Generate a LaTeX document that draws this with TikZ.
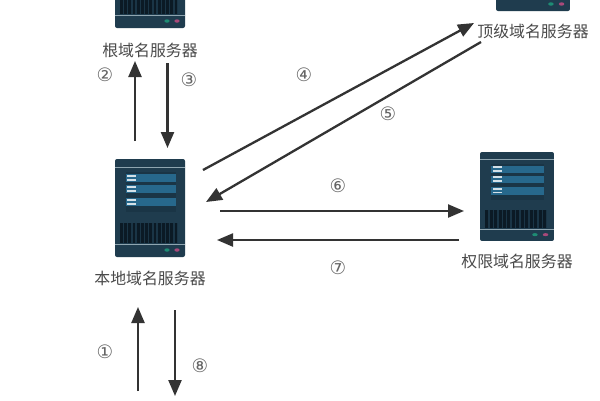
\documentclass[tikz,border=0pt]{standalone}
\usepackage{fontspec}
\newfontfamily\cjk{Noto Sans CJK SC}
\newfontfamily\symb{DejaVu Sans}
\usetikzlibrary{arrows.meta}
\definecolor{casing}{HTML}{1F3C4E}
\definecolor{casingdark}{HTML}{1A3546}
\definecolor{panelrow}{HTML}{27688C}
\definecolor{stripe}{HTML}{8FA5B0}
\definecolor{slot}{HTML}{0B1A25}
\definecolor{ledg}{HTML}{1E8C74}
\definecolor{ledp}{HTML}{A8497A}
\definecolor{inkline}{HTML}{333333}
\definecolor{inktext}{HTML}{4A4A4A}
\tikzset{
  x=1pt,y=-1pt,
  flow/.style={draw=inkline,line width=2.3pt,-{Triangle[length=16pt,width=13pt]}},
  srvlabel/.style={font=\cjk\fontsize{15.9}{18}\selectfont,text=inktext,inner sep=0pt},
  mark num/.style={font=\symb\fontsize{18.5}{20}\selectfont,text=inktext!85,inner sep=0pt},
  pics/serverunit/.style={code={
    % casing: 70 x 98 in local units
    \fill[casing,rounded corners=2pt] (0,0) rectangle (70,98);
    \fill[stripe] (0,7.6) rectangle (70,8.8);
    % status panel with three groups of rows
    \fill[casingdark] (10.5,13) rectangle (60.5,53);
    \foreach \ya in {15,26,39}{
      \fill[panelrow] (10.5,\ya) rectangle (60.5,\ya+8.4);
      \fill[white!80!panelrow] (12,\ya+.9) rectangle (20.5,\ya+2.5);
      \fill[white!80!panelrow] (12,\ya+4.9) rectangle (20.5,\ya+6.5);
    }
    % ventilation grille
    \fill[casingdark] (5,64) rectangle (63,84);
    \foreach \xa in {5,9.2,...,60}{\fill[slot] (\xa,64) rectangle (\xa+2.8,84);}
    \fill[stripe] (0,84.6) rectangle (70,85.8);
    % indicator lamps
    \fill[ledg] (52,91) ellipse (2.6 and 1.7);
    \fill[ledp] (62,91) ellipse (2.6 and 1.7);
  }}
}
\begin{document}
\begin{tikzpicture}
\useasboundingbox (0,0) rectangle (600,400);
\fill[white] (0,0) rectangle (600,400);

% servers, clipped by the page edge where they run off it
\begin{scope}
\clip (0,0) rectangle (600,400);
\pic[shift={(115,-70)}] {serverunit};
\pic[shift={(115,159)}] {serverunit};
\pic[shift={(496,-87)},xscale=1.057] {serverunit};
\pic[shift={(480,152)},xscale=1.057,yscale=.908] {serverunit};
\end{scope}

% server names
\node[srvlabel] (root) at (150,50.5) {根域名服务器};
\node[srvlabel] (tld) at (533,31) {顶级域名服务器};
\node[srvlabel] (local) at (150,278) {本地域名服务器};
\node[srvlabel] (auth) at (517,261.5) {权限域名服务器};

% connector end points
\coordinate (a2s) at (135,141);  \coordinate (a2e) at (135,61);
\coordinate (a3s) at (167.5,63); \coordinate (a3e) at (167.5,148);
\coordinate (a4s) at (203,170);  \coordinate (a4e) at (474,23);
\coordinate (a5s) at (481,42);   \coordinate (a5e) at (206,202);
\coordinate (a6s) at (220,211);  \coordinate (a6e) at (464,211);
\coordinate (a7s) at (459,240);  \coordinate (a7e) at (217,240);
\coordinate (a1s) at (138,391);  \coordinate (a1e) at (138,307);
\coordinate (a8s) at (175,310);  \coordinate (a8e) at (175,396);

\foreach \k in {1,...,8}{\draw[flow] (a\k s) -- (a\k e);}

% step numbers
\node[mark num] (n1) at (105,352) {①};
\node[mark num] (n2) at (105,75) {②};
\node[mark num] (n3) at (189,80) {③};
\node[mark num] (n4) at (304,75) {④};
\node[mark num] (n5) at (388,114) {⑤};
\node[mark num] (n6) at (338,186) {⑥};
\node[mark num] (n7) at (338,268) {⑦};
\node[mark num] (n8) at (200,366) {⑧};
\end{tikzpicture}
\end{document}
